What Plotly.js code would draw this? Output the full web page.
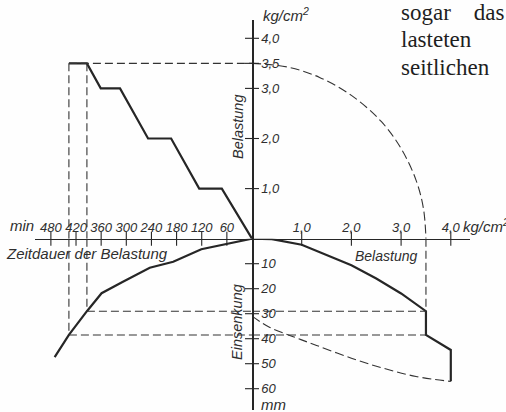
<!DOCTYPE html>
<html>
<head>
<meta charset="utf-8">
<script src="https://cdn.plot.ly/plotly-3.0.1.min.js"></script>
<style>html,body{margin:0;padding:0;background:#fefefe;}#chart{width:506px;height:412px;}</style>
</head>
<body>
<div id="chart"></div>
<script>
// ---- data ----
// upper-left: load (kg/cm²) against duration of loading (min)
const timeLoad = [0, 72, 126, 193, 248, 315, 361, 394, 437];
const loadOverTime = [0, 1, 1, 2, 2, 3, 3, 3.5, 3.5];
// lower-left: settlement (mm) against duration (min)
const timeSettle = [0, 61, 121, 188, 244, 308, 359, 394, 437, 471];
const settleOverTime = [0, 2, 4.2, 9.2, 11.6, 17.2, 21.8, 29, 38.5, 47.4];
// lower-right: settlement (mm) against load (kg/cm²), solid
const loadSolid = [0, 0.4, 1.0, 1.5, 2.0, 2.5, 3.0, 3.5, 3.5, 4.0, 4.0];
const settleSolid = [0, 0.2, 2.4, 6.6, 10.6, 15.9, 21.9, 29, 38.5, 44.5, 57];
// lower-right: dashed curve
const loadDashed = [0, 0.36, 0.83, 1.3, 2.0, 2.64, 3.3, 4.0];
const settleDashed = [31, 35.5, 39.2, 42.7, 47.8, 51.8, 55.1, 57.1];
// upper-right: dashed transfer arc
const arcLoadX = [0, 0.7, 1.36, 2.0, 2.6, 3.0, 3.3, 3.45, 3.5];
const arcLoadY = [3.5, 3.43, 3.22, 2.86, 2.34, 1.8, 1.17, 0.6, 0];
// guide values
const holdLoad = 3.5;
const holdStart = 394;
const holdEnd = 437;
const settleAtStart = 29;
const settleAtEnd = 38.5;
// ticks
const timeTicks = [60, 120, 180, 240, 300, 360, 420, 480];
const timeTickText = ['60', '120', '180', '240', '300', '360', '420', '480'];
const loadTicksX = [1, 2, 3, 4];
const loadTicksXText = ['1,0', '2,0', '3,0', '4,0'];
const loadTicksY = [1, 2, 3, 3.5, 4];
const loadTicksYText = ['1,0', '2,0', '3,0', '3,5', '4,0'];
const settleTicks = [10, 20, 30, 40, 50, 60];
const settleTickText = ['10', '20', '30', '40', '50', '60'];

// ---- geometry (pixels of the 506x412 page) ----
const W = 506, H = 412;
const ox = 252, oy = 238.7;
const px = v => v / W, py = v => 1 - v / H;

const ink = '#262626';
const tickFont = {family: 'Liberation Sans, Arial, sans-serif', size: 13, color: '#2e2e2e', style: 'italic'};
const wordFont = {family: 'Liberation Sans, Arial, sans-serif', size: 14, color: '#2e2e2e', style: 'italic'};
const bookFont = {family: 'Liberation Serif, DejaVu Serif, serif', size: 23, color: '#1e1e1e'};

const solid = {color: ink, width: 2.2};
const dashed = {color: '#333', width: 1.1, dash: '8px,4px'};

const traces = [];
traces.push({x: timeLoad, y: loadOverTime, xaxis: 'x2', yaxis: 'y', mode: 'lines', line: solid});
traces.push({x: timeSettle, y: settleOverTime, xaxis: 'x2', yaxis: 'y2', mode: 'lines', line: solid});
traces.push({x: loadSolid, y: settleSolid, xaxis: 'x', yaxis: 'y2', mode: 'lines', line: solid});
traces.push({x: loadDashed, y: settleDashed, xaxis: 'x', yaxis: 'y2', mode: 'lines', line: Object.assign({}, dashed, {dash: '9px,4px', shape: 'spline'})});
traces.push({x: arcLoadX, y: arcLoadY, xaxis: 'x', yaxis: 'y', mode: 'lines', line: Object.assign({}, dashed, {dash: '9px,4px', shape: 'spline'})});
// dashed guides, upper-left
traces.push({x: [holdEnd, 0, null, holdEnd, holdEnd, null, holdStart, holdStart],
             y: [holdLoad, holdLoad, null, holdLoad, 0, null, holdLoad, 0],
             xaxis: 'x2', yaxis: 'y', mode: 'lines', line: dashed});
// dashed guides, lower-left
traces.push({x: [holdEnd, holdEnd, null, holdStart, holdStart, null, holdStart, 0, null, holdEnd, 0],
             y: [0, settleAtEnd, null, 0, settleAtStart, null, settleAtStart, settleAtStart, null, settleAtEnd, settleAtEnd],
             xaxis: 'x2', yaxis: 'y2', mode: 'lines', line: dashed});
// dashed guides, lower-right
traces.push({x: [0, holdLoad, null, 0, holdLoad, null, holdLoad, holdLoad],
             y: [settleAtStart, settleAtStart, null, settleAtEnd, settleAtEnd, null, 0, settleAtStart],
             xaxis: 'x', yaxis: 'y2', mode: 'lines', line: dashed});
// tick marks crossing the axes
const tickMarker = sym => ({symbol: sym, size: 10, color: ink, line: {color: ink, width: 1.1}});
traces.push({x: timeTicks, y: timeTicks.map(() => 0), xaxis: 'x2', yaxis: 'y', mode: 'markers', marker: tickMarker('line-ns'), cliponaxis: false});
traces.push({x: loadTicksX, y: loadTicksX.map(() => 0), xaxis: 'x', yaxis: 'y', mode: 'markers', marker: tickMarker('line-ns'), cliponaxis: false});
traces.push({x: loadTicksY.map(() => 0), y: loadTicksY, xaxis: 'x', yaxis: 'y', mode: 'markers', marker: tickMarker('line-ew'), cliponaxis: false});
traces.push({x: settleTicks.map(() => 0), y: settleTicks, xaxis: 'x', yaxis: 'y2', mode: 'markers', marker: tickMarker('line-ew'), cliponaxis: false});

const axisBase = {showgrid: false, zeroline: false, showline: true, linecolor: ink, linewidth: 1.6,
                  ticks: '', tickfont: tickFont, tickmode: 'array', tickangle: 0, fixedrange: true};

const layout = {
  width: W, height: H,
  margin: {l: 0, r: 0, t: 0, b: 0},
  paper_bgcolor: '#fefefe', plot_bgcolor: 'rgba(0,0,0,0)',
  showlegend: false,
  xaxis: Object.assign({}, axisBase, {domain: [px(ox), px(470)], range: [0, (470 - ox) / 49.7],
         anchor: 'free', position: py(oy), side: 'top', tickvals: loadTicksX, ticktext: loadTicksXText, ticklabelstandoff: 2}),
  xaxis2: Object.assign({}, axisBase, {domain: [px(35), px(ox)], range: [(ox - 35) / 0.419, 0],
         anchor: 'free', position: py(oy), side: 'top', tickvals: timeTicks, ticktext: timeTickText, ticklabelstandoff: 2}),
  yaxis: Object.assign({}, axisBase, {domain: [py(oy), py(20)], range: [0, (oy - 20) / 50.1],
         anchor: 'free', position: px(ox), side: 'right', tickvals: loadTicksY, ticktext: loadTicksYText, ticklabelstandoff: 5}),
  yaxis2: Object.assign({}, axisBase, {domain: [py(410), py(oy)], range: [(410 - oy) / 2.5, 0],
         anchor: 'free', position: px(ox), side: 'right', tickvals: settleTicks, ticktext: settleTickText, ticklabelstandoff: 5}),
  annotations: [
    {text: 'kg/cm<sup>2</sup>', x: px(261), y: py(15), xanchor: 'left', yanchor: 'middle', font: Object.assign({}, wordFont, {size: 15})},
    {text: 'kg/cm<sup>2</sup>', x: px(461), y: py(225), xanchor: 'left', yanchor: 'middle', font: Object.assign({}, wordFont, {size: 15})},
    {text: 'min', x: px(8), y: py(225), xanchor: 'left', yanchor: 'middle', font: Object.assign({}, wordFont, {size: 15})},
    {text: 'Zeitdauer der Belastung', x: px(4), y: py(254), xanchor: 'left', yanchor: 'middle', font: Object.assign({}, wordFont, {size: 15})},
    {text: 'Belastung', x: px(238), y: py(127), xanchor: 'center', yanchor: 'middle', textangle: -90, font: Object.assign({}, wordFont, {size: 14.5})},
    {text: 'Einsenkung', x: px(237), y: py(322), xanchor: 'center', yanchor: 'middle', textangle: -90, font: Object.assign({}, wordFont, {size: 14.5})},
    {text: 'Belastung', x: px(386), y: py(256), xanchor: 'center', yanchor: 'middle', font: wordFont},
    {text: 'mm', x: px(273), y: py(404), xanchor: 'center', yanchor: 'middle', font: Object.assign({}, wordFont, {size: 15})},
    {text: 'sogar\u2003das', x: px(399), y: py(13), xanchor: 'left', yanchor: 'middle', font: bookFont},
    {text: 'lasteten', x: px(399), y: py(40), xanchor: 'left', yanchor: 'middle', font: bookFont},
    {text: 'seitlichen', x: px(399), y: py(67), xanchor: 'left', yanchor: 'middle', font: bookFont}
  ].map(a => Object.assign({xref: 'paper', yref: 'paper', showarrow: false}, a))
};

Plotly.newPlot('chart', traces, layout, {displayModeBar: false, staticPlot: true});
</script>
</body>
</html>
